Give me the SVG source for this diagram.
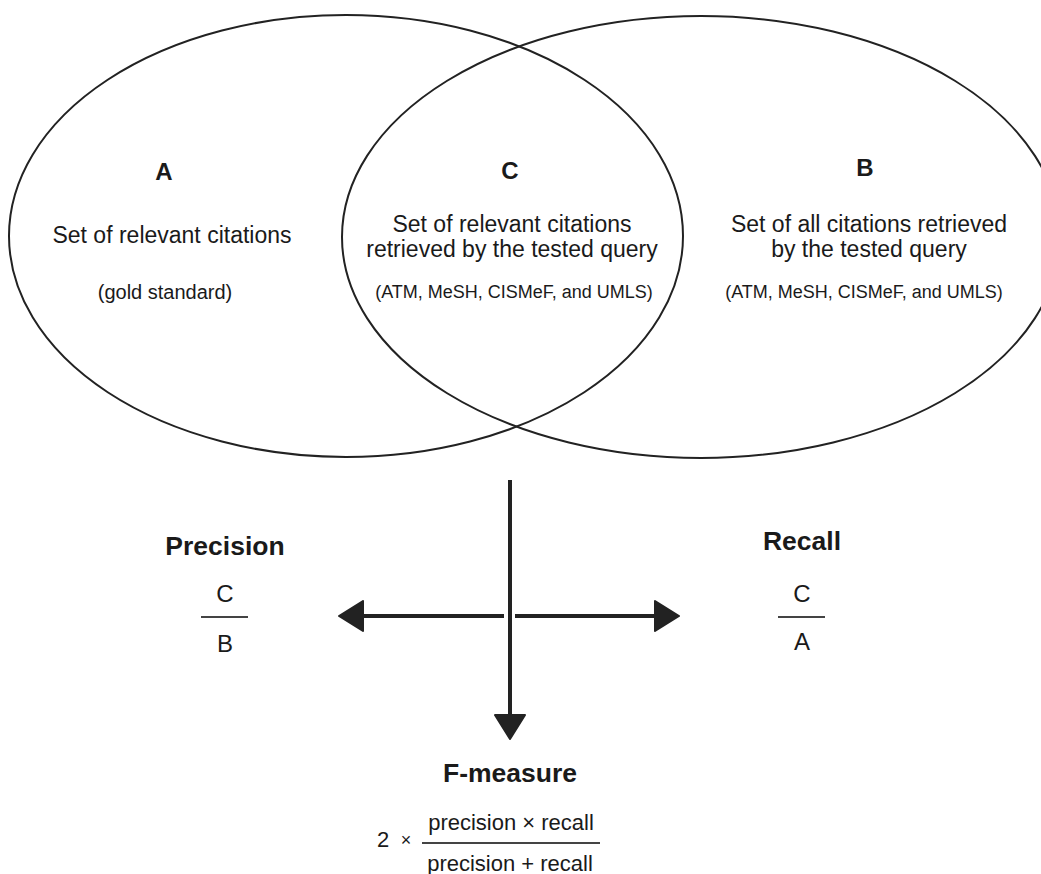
<svg xmlns="http://www.w3.org/2000/svg" width="1041" height="874" viewBox="0 0 1041 874">
  <style>
    text { font-family: "Liberation Sans", Arial, sans-serif; fill: #1a1a1a; text-anchor: middle; }
    .letter { font-size: 24px; font-weight: bold; }
    .desc { font-size: 23px; }
    .small { font-size: 18px; }
    .title { font-size: 26.5px; font-weight: bold; }
    .frac { font-size: 24px; }
    .formula { font-size: 22px; }
    .set { fill: none; stroke: #222; stroke-width: 2; }
    .conn { stroke: #222; stroke-width: 4; fill: none; }
    .bar { stroke: #444; stroke-width: 2; }
  </style>
  <defs>
    <marker id="head" viewBox="0 0 26 32" refX="1" refY="16" markerWidth="26" markerHeight="32" markerUnits="userSpaceOnUse" orient="auto">
      <path d="M1,1 L25,16 L1,31 Z" fill="#222" stroke="#222" stroke-width="2" stroke-linejoin="round"/>
    </marker>
  </defs>

  <g id="setA">
    <ellipse class="set" cx="346" cy="236" rx="337" ry="221"/>
    <text class="letter" x="164" y="180">A</text>
    <text class="desc" x="172" y="243">Set of relevant citations</text>
    <text x="165" y="299" style="font-size:20px">(gold standard)</text>
  </g>

  <g id="setB">
    <ellipse class="set" cx="701" cy="237" rx="359" ry="221"/>
    <text class="letter" x="865" y="176">B</text>
    <text class="desc" x="869" y="232">Set of all citations retrieved</text>
    <text class="desc" x="869" y="257">by the tested query</text>
    <text class="small" x="864" y="298">(ATM, MeSH, CISMeF, and UMLS)</text>
  </g>

  <g id="setC">
    <text class="letter" x="510" y="179">C</text>
    <text class="desc" x="512" y="232">Set of relevant citations</text>
    <text class="desc" x="512" y="257">retrieved by the tested query</text>
    <text class="small" x="514" y="298">(ATM, MeSH, CISMeF, and UMLS)</text>
  </g>

  <g id="connectors">
    <line class="conn" x1="510" y1="480" x2="510" y2="715" marker-end="url(#head)"/>
    <line class="conn" x1="504" y1="616" x2="363" y2="616" marker-end="url(#head)"/>
    <line class="conn" x1="515" y1="616" x2="655" y2="616" marker-end="url(#head)"/>
  </g>

  <g id="precision">
    <text class="title" x="225" y="555">Precision</text>
    <text class="frac" x="225" y="602">C</text>
    <line class="bar" x1="201" y1="617" x2="248" y2="617"/>
    <text class="frac" x="225" y="652">B</text>
  </g>

  <g id="recall">
    <text class="title" x="802" y="550">Recall</text>
    <text class="frac" x="802" y="602">C</text>
    <line class="bar" x1="778" y1="617" x2="825" y2="617"/>
    <text class="frac" x="802" y="650">A</text>
  </g>

  <g id="fmeasure">
    <text class="title" x="510" y="782">F-measure</text>
    <text class="formula" x="383" y="847">2</text>
    <text x="406" y="846" style="font-size:18px">×</text>
    <text class="formula" x="511" y="830">precision × recall</text>
    <line class="bar" x1="422" y1="843" x2="600" y2="843"/>
    <text class="formula" x="510" y="871">precision + recall</text>
  </g>
</svg>
